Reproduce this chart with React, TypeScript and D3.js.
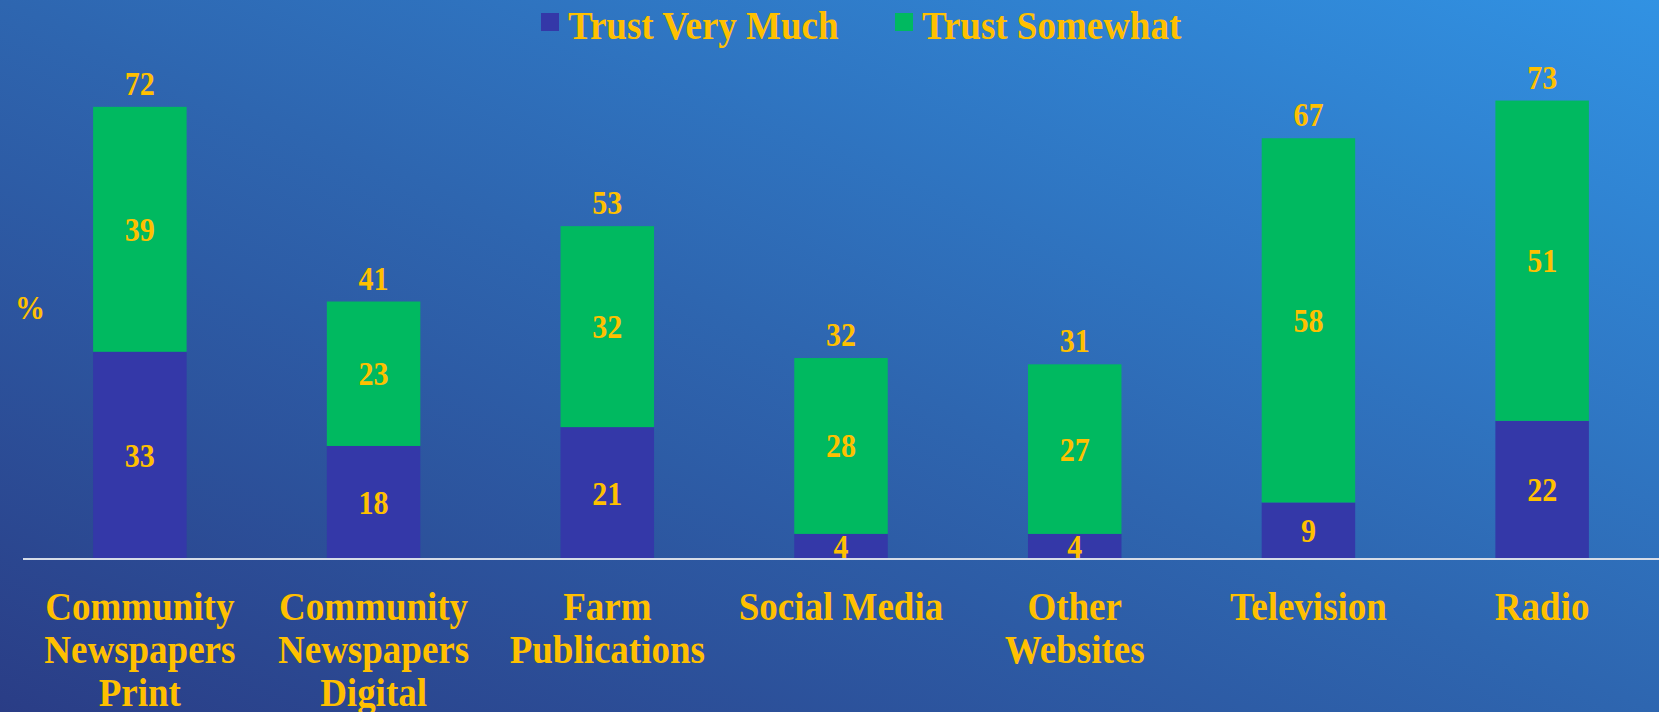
import React from 'react'
import * as d3 from 'd3'

const categories = [
  ['Community', 'Newspapers', 'Print'],
  ['Community', 'Newspapers', 'Digital'],
  ['Farm', 'Publications'],
  ['Social Media'],
  ['Other', 'Websites'],
  ['Television'],
  ['Radio'],
]
const trustVeryMuch = [33, 18, 21, 4, 4, 9, 22]
const trustSomewhat = [39, 23, 32, 28, 27, 58, 51]
const totals = [72, 41, 53, 32, 31, 67, 73]
const seriesNames = ['Trust Very Much', 'Trust Somewhat']

const W = 1659
const H = 712
const BLUE = '#3438A8'
const GREEN = '#00B960'
const GOLD = '#FFC000'
const FONT = '"Liberation Serif", "Times New Roman", serif'
const STRETCH = 1.1

// text drawn slightly taller than wide, as in the source slide
const Label = ({ x, y, size, anchor = 'middle', children }: any) => (
  <text
    transform={`translate(${x},${y}) scale(1,${STRETCH})`}
    textAnchor={anchor}
    fill={GOLD}
    fontSize={size}
  >
    {children}
  </text>
)

export default function App() {
  const baseY = 559
  const x = d3
    .scaleBand<number>()
    .domain(d3.range(categories.length))
    .range([23, W])
    .paddingInner(0.6)
    .paddingOuter(0.3)
  const y = d3.scaleLinear().domain([0, 80]).range([baseY, baseY - 502.4])

  return (
    <svg
      width={W}
      height={H}
      style={{ position: 'absolute', left: 0, top: 0, display: 'block' }}
      fontFamily={FONT}
      fontWeight="bold"
    >
      <defs>
        <linearGradient id="bg" x1="0" y1="1" x2="1" y2="0">
          <stop offset="0" stopColor="#2A3D86" />
          <stop offset="0.5" stopColor="#2E66B0" />
          <stop offset="1" stopColor="#3192E3" />
        </linearGradient>
      </defs>
      <rect width={W} height={H} fill="url(#bg)" />

      {/* legend */}
      <rect x={541} y={13} width={18} height={18} fill={BLUE} />
      <Label x={568} y={39} size={37} anchor="start">{seriesNames[0]}</Label>
      <rect x={895} y={13} width={18} height={18} fill={GREEN} />
      <Label x={922} y={39} size={37} anchor="start">{seriesNames[1]}</Label>

      <Label x={15} y={319} size={30} anchor="start">%</Label>

      {categories.map((lines, i) => {
        const bx = x(i)!
        const bw = x.bandwidth()
        const cx = bx + bw / 2
        const v1 = trustVeryMuch[i]
        const v2 = trustSomewhat[i]
        return (
          <g key={i}>
            <rect x={bx} y={y(v1)} width={bw} height={baseY - y(v1)} fill={BLUE} />
            <rect x={bx} y={y(v1 + v2)} width={bw} height={y(v1) - y(v1 + v2)} fill={GREEN} />
            <Label x={cx} y={(y(0) + y(v1)) / 2 + 11.5} size={30}>{v1}</Label>
            <Label x={cx} y={(y(v1) + y(v1 + v2)) / 2 + 11.5} size={30}>{v2}</Label>
            <Label x={cx} y={y(v1 + v2) - 12} size={30}>{totals[i]}</Label>
            {lines.map((l, j) => (
              <Label key={j} x={cx} y={620 + j * 43} size={37}>{l}</Label>
            ))}
          </g>
        )
      })}

      <line x1={23} x2={W} y1={baseY} y2={baseY} stroke="#D6DCE8" strokeWidth={2} />
    </svg>
  )
}
